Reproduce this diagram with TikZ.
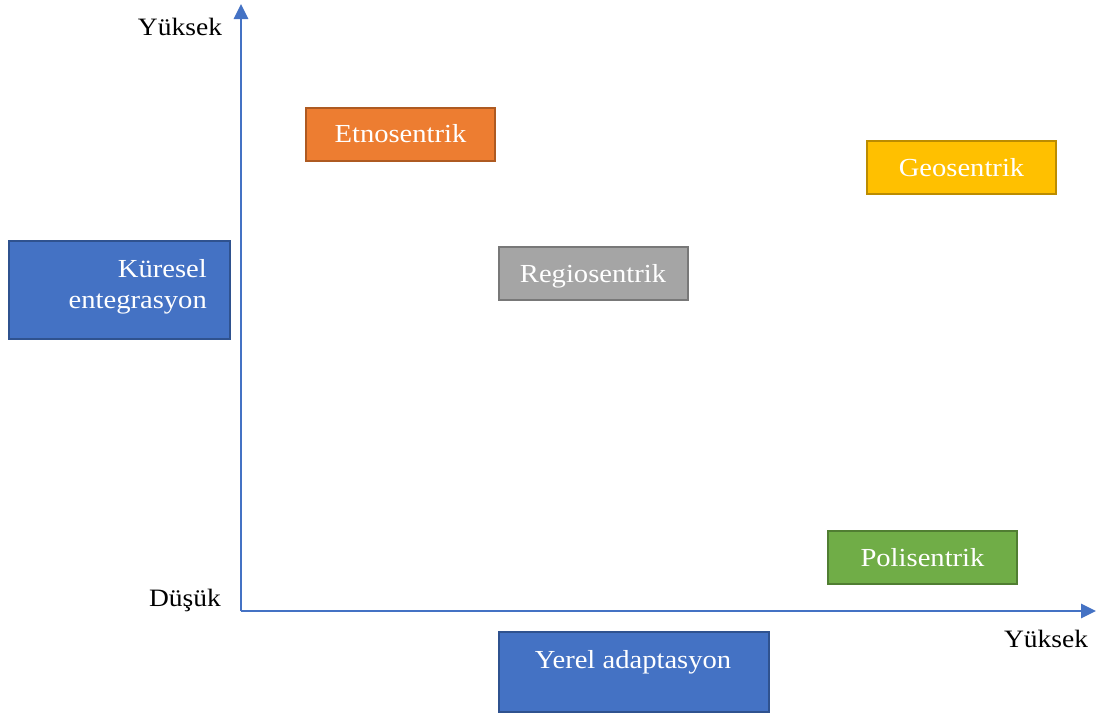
\documentclass[tikz,border=0pt]{standalone}
\usepackage{fontspec}
\setmainfont{Liberation Serif}[FakeStretch=1.1]
\usetikzlibrary{arrows.meta}
\definecolor{axisblue}{HTML}{4472C4}
\definecolor{blueedge}{HTML}{2F528F}
\definecolor{orangefill}{HTML}{ED7D31}
\definecolor{orangeedge}{HTML}{AE5A21}
\definecolor{goldfill}{HTML}{FFC000}
\definecolor{goldedge}{HTML}{BC8C00}
\definecolor{greyfill}{HTML}{A5A5A5}
\definecolor{greyedge}{HTML}{787878}
\definecolor{greenfill}{HTML}{70AD47}
\definecolor{greenedge}{HTML}{507E32}
\tikzset{
  x=1pt, y=-1pt,
  every node/.style={font=\fontsize{26}{31}\selectfont, inner sep=0pt,
                     text height=17pt, text depth=0pt},
  axis/.style={draw=axisblue, line width=2.8pt, -{Triangle[length=15pt,width=14pt]}},
  box/.style={rectangle, line width=2pt, text=white, minimum width=189pt, minimum height=53pt},
  axislabel/.style={text=black, font=\fontsize{25}{30}\selectfont},
}
\begin{document}
\begin{tikzpicture}
\useasboundingbox (0,0) rectangle (1101,716);

% axes
\coordinate (O) at (241,611);
\coordinate (ytop) at (241,4);
\coordinate (xend) at (1096,611);
\draw[axis] (O) -- (ytop);
\draw[axis] (O) -- (xend);

% axis labels
\node[axislabel] (yhigh) at (180,27) {Yüksek};
\node[axislabel] (ylow) at (185,598) {Düşük};
\node[axislabel] (xhigh) at (1046,639) {Yüksek};

% dimension boxes
\node[box, fill=axisblue, draw=blueedge, minimum width=221pt, minimum height=98pt] (global) at (119.5,290) {};
\node[text=white, align=right, anchor=east] (globaltext) at (207,299.5) {Küresel\\entegrasyon};
\node[box, fill=axisblue, draw=blueedge, minimum width=270pt, minimum height=80pt] (localbox) at (634,672) {};
\node[text=white] (local) at (633,660) {Yerel adaptasyon};

% orientation boxes
\node[box, fill=orangefill, draw=orangeedge] (etno) at (400.5,134) {Etnosentrik};
\node[box, fill=goldfill, draw=goldedge] (geo) at (961.5,167.5) {Geosentrik};
\node[box, fill=greyfill, draw=greyedge] (regio) at (593,273.5) {Regiosentrik};
\node[box, fill=greenfill, draw=greenedge] (poli) at (922.5,557.5) {Polisentrik};
\end{tikzpicture}
\end{document}
